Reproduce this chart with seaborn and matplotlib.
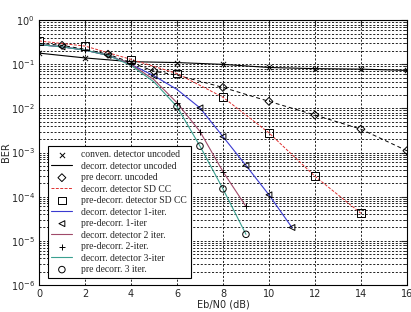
import matplotlib
matplotlib.use("Agg")
import matplotlib.pyplot as plt
import seaborn as sns
from matplotlib.ticker import LogLocator, NullFormatter, FixedLocator

sns.set_style('white')
plt.rcParams['font.family'] = ['DejaVu Sans']

############
# Data
############
snr_conv = [0, 2, 4, 6, 8, 10, 12, 14, 16]
ber_conv = [0.18, 0.14, 0.115, 0.11, 0.1, 0.085, 0.08, 0.078, 0.073]

snr_pre_unc = [0, 1, 2, 3, 4, 5, 6, 8, 10, 12, 14, 16]
ber_pre_unc = [0.3, 0.27, 0.22, 0.17, 0.11, 0.07, 0.057, 0.03, 0.0145, 0.0071, 0.0034, 0.0011]

snr_sdcc = [0, 2, 4, 6, 8, 10, 12, 14]
ber_sdcc = [0.34, 0.26, 0.13, 0.062, 0.018, 0.0028, 2.9e-4, 4.2e-5]

snr_it1 = [0, 1, 2, 3, 4, 5, 6, 7, 8, 9, 10, 11]
ber_it1 = [0.28, 0.25, 0.21, 0.16, 0.1, 0.055, 0.027, 0.0103, 0.0023, 5.1e-4, 1.1e-4, 2e-5]

snr_it2 = [0, 1, 2, 3, 4, 5, 6, 7, 8, 9]
ber_it2 = [0.28, 0.25, 0.21, 0.16, 0.1, 0.045, 0.0135, 0.003, 3.7e-4, 6e-5]

snr_it3 = [0, 1, 2, 3, 4, 5, 6, 7, 8, 9]
ber_it3 = [0.28, 0.25, 0.21, 0.16, 0.095, 0.04, 0.011, 0.0014, 1.5e-4, 1.4e-5]

labels = ['conven. detector uncoded', 'decorr. detector uncoded', 'pre decorr. uncoded',
          'decorr. detector SD CC', 'pre-decorr. detector SD CC', 'decorr. detector 1-iter.',
          'pre-decorr. 1-iter', 'decorr. detector 2 iter.', 'pre-decorr. 2-iter.',
          'decorr. detector 3-iter', 'pre decorr. 3 iter.']

BLUE = '#3a3ad0'
MAROON = '#a04a6a'
TEAL = '#3aa090'
RED = '#e03030'

fig = plt.figure(figsize=(4.11, 3.12), dpi=100)
ax = fig.add_axes([0.095, 0.087, 0.895, 0.848])

hollow = dict(facecolors='none', edgecolor='black', linewidth=0.7, zorder=4)

# marker subsets actually drawn in the picture
d_idx = [1, 3, 5, 7, 8, 9, 10, 11]
t_idx = [1, 3, 5, 7, 8, 9, 10, 11]
p_idx = [0, 2, 4, 6, 7, 8, 9]

sns.scatterplot(x=snr_conv, y=ber_conv, marker='x', color='black', s=14, linewidth=0.7,
                ax=ax, label=labels[0], zorder=4)
sns.lineplot(x=snr_conv, y=ber_conv, color='black', lw=0.8, ax=ax, label=labels[1])
sns.lineplot(x=snr_pre_unc, y=ber_pre_unc, color='black', lw=0.7, ls=(0, (4, 3)), ax=ax, label='_nolegend_')
sns.scatterplot(x=[snr_pre_unc[i] for i in d_idx], y=[ber_pre_unc[i] for i in d_idx],
                marker='D', s=16, ax=ax, label=labels[2], **hollow)
sns.lineplot(x=snr_sdcc, y=ber_sdcc, color=RED, lw=0.7, ls=(0, (3, 1.5)), ax=ax, label=labels[3])
sns.scatterplot(x=snr_sdcc, y=ber_sdcc, marker='s', s=30, ax=ax, label=labels[4], **hollow)
sns.lineplot(x=snr_it1, y=ber_it1, color=BLUE, lw=0.8, ax=ax, label=labels[5])
sns.scatterplot(x=[snr_it1[i] for i in t_idx], y=[ber_it1[i] for i in t_idx],
                marker='<', s=18, ax=ax, label=labels[6], **hollow)
sns.lineplot(x=snr_it2, y=ber_it2, color=MAROON, lw=0.8, ax=ax, label=labels[7])
sns.scatterplot(x=[snr_it2[i] for i in p_idx], y=[ber_it2[i] for i in p_idx], marker='+',
                color='black', s=18, linewidth=0.7, ax=ax, label=labels[8], zorder=4)
sns.lineplot(x=snr_it3, y=ber_it3, color=TEAL, lw=0.8, ax=ax, label=labels[9])
sns.scatterplot(x=snr_it3[6:], y=ber_it3[6:], marker='o', s=22, ax=ax, label=labels[10], **hollow)

ax.set_yscale('log')
ax.set_xlim(0, 16)
ax.set_ylim(1e-6, 1)
ax.xaxis.set_major_locator(FixedLocator(range(0, 17, 2)))
ax.yaxis.set_major_locator(LogLocator(base=10, numticks=10))
ax.yaxis.set_minor_locator(LogLocator(base=10, subs=range(2, 10), numticks=20))
ax.yaxis.set_minor_formatter(NullFormatter())
grid_kw = dict(color='black', linestyle=(0, (2.5, 2)), linewidth=0.6)
ax.grid(True, which='major', axis='both', **grid_kw)
ax.grid(True, which='minor', axis='y', **grid_kw)
ax.tick_params(axis='both', which='both', direction='in', labelsize=7, top=True, right=True)
ax.tick_params(which='major', length=4, pad=3)
ax.tick_params(which='minor', length=2)
for s in ax.spines.values():
    s.set_color('black')
    s.set_linewidth(0.8)

ax.set_xlabel('Eb/N0 (dB)', fontsize=7, labelpad=0)
ax.set_ylabel('BER', fontsize=7, labelpad=0)

handles, labs = ax.get_legend_handles_labels()
order = [labs.index(l) for l in labels]
leg = ax.legend([handles[i] for i in order], [labs[i] for i in order], loc='lower left',
                bbox_to_anchor=(0.01, 0.008), prop={'family': 'Liberation Serif', 'size': 6.9},
                frameon=True, fancybox=False, framealpha=1, edgecolor='black',
                labelspacing=0.26, handlelength=2.2, handletextpad=0.9, borderpad=0.4)
leg.get_frame().set_linewidth(0.8)

fig.savefig('out.png', dpi=100)
